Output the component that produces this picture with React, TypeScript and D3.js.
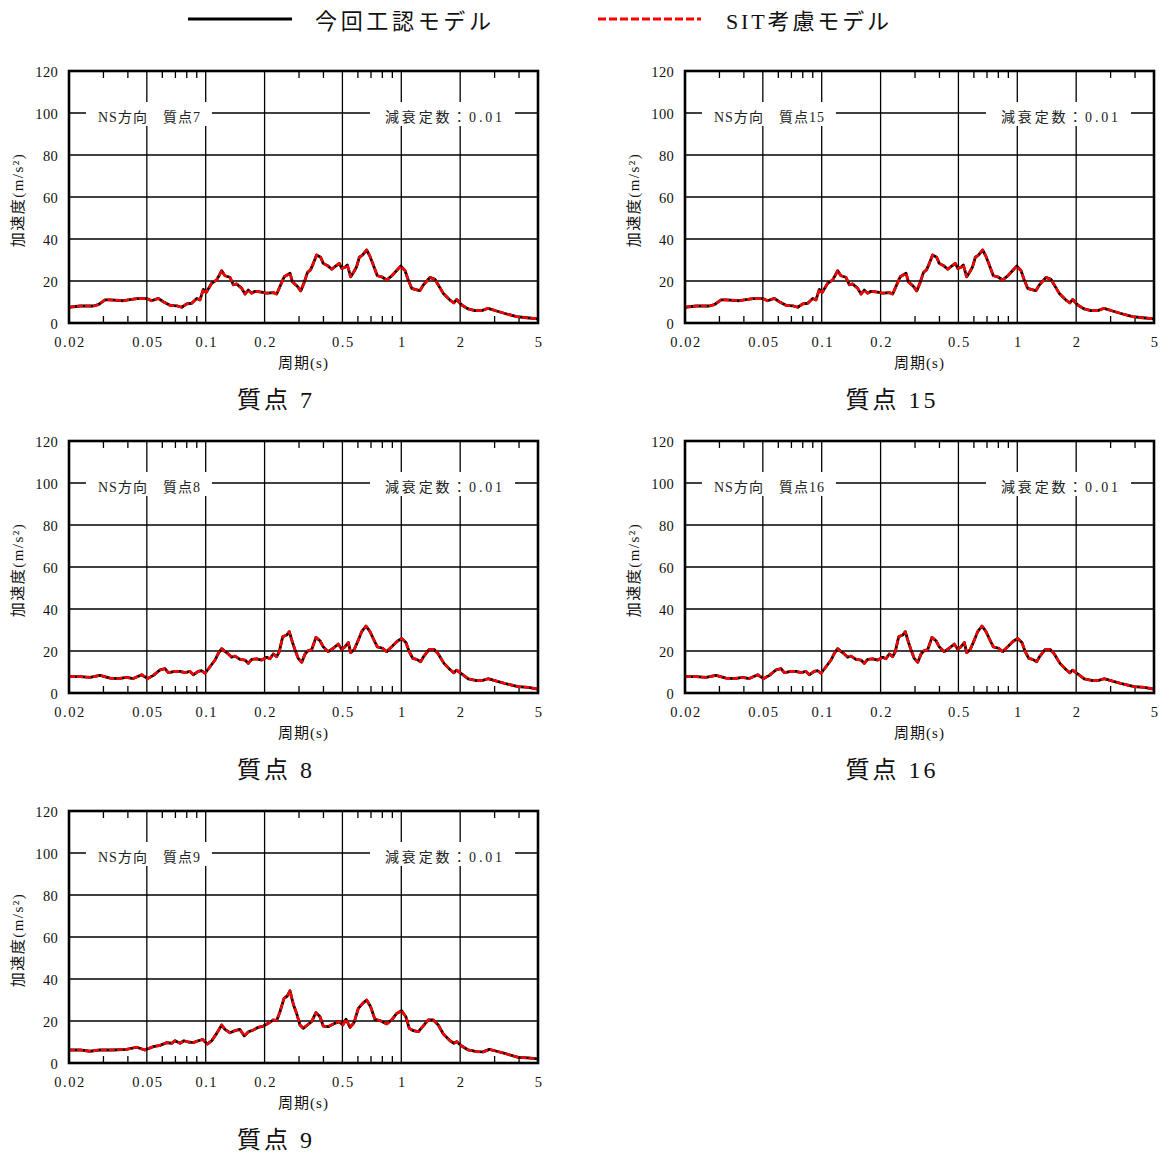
import React, { useEffect, useRef } from "react";
import * as d3 from "d3";

// ---------- data ----------
// 質点7 / 質点15 (identical curves)
const periods7 = [0.02, 0.0228, 0.0266, 0.0282, 0.0306, 0.0324, 0.0379, 0.0444, 0.05, 0.0529, 0.0572, 0.0607, 0.0657, 0.0711, 0.0754, 0.08, 0.0848, 0.09, 0.0935, 0.0972, 0.1005, 0.1073, 0.1138, 0.1207, 0.1254, 0.133, 0.1384, 0.144, 0.1528, 0.1588, 0.165, 0.1718, 0.1786, 0.1895, 0.205, 0.2216, 0.2306, 0.2378, 0.252, 0.2698, 0.278, 0.286, 0.294, 0.306, 0.318, 0.331, 0.344, 0.355, 0.369, 0.387, 0.399, 0.423, 0.441, 0.458, 0.482, 0.496, 0.515, 0.53, 0.551, 0.568, 0.591, 0.61, 0.635, 0.665, 0.692, 0.725, 0.754, 0.794, 0.842, 0.893, 0.947, 0.993, 1.044, 1.086, 1.13, 1.174, 1.246, 1.296, 1.402, 1.486, 1.546, 1.64, 1.774, 1.858, 1.919, 2.036, 2.2, 2.38, 2.58, 2.78, 3.07, 3.46, 3.89, 4.38, 5.0];
const kounin7 = [7.5, 8.1, 8.1, 8.7, 11.0, 11.0, 10.6, 11.6, 11.6, 10.6, 11.7, 10.1, 8.4, 8.2, 7.5, 9.1, 9.4, 11.7, 11.0, 16.0, 14.5, 18.9, 20.5, 24.9, 22.5, 21.8, 18.2, 18.6, 16.5, 13.8, 15.7, 14.2, 15.1, 14.8, 14.2, 14.5, 13.8, 16.7, 22.0, 23.7, 19.5, 18.5, 17.5, 15.3, 19.0, 24.0, 25.4, 28.4, 32.4, 31.3, 28.4, 27.1, 25.6, 26.8, 28.4, 26.0, 26.5, 27.6, 22.0, 23.9, 26.8, 31.3, 32.4, 34.8, 31.7, 26.8, 22.5, 22.0, 20.5, 22.4, 25.0, 27.1, 25.0, 20.5, 16.5, 16.0, 15.4, 18.1, 21.7, 20.8, 18.1, 14.1, 10.9, 9.6, 11.2, 8.6, 6.7, 5.9, 5.9, 7.0, 5.7, 4.3, 3.0, 2.5, 2.0];
const sit7 = kounin7; // SIT考慮モデル overlaps the black curve exactly at this scale

// 質点8 / 質点16 (identical curves)
const periods8 = [0.02, 0.0228, 0.0256, 0.0288, 0.0324, 0.0357, 0.0394, 0.0426, 0.0471, 0.0503, 0.054, 0.0584, 0.0619, 0.0644, 0.0697, 0.0739, 0.0784, 0.0831, 0.0864, 0.0916, 0.0954, 0.0992, 0.1052, 0.1116, 0.116, 0.1207, 0.1254, 0.1304, 0.1358, 0.1412, 0.1497, 0.1588, 0.165, 0.1718, 0.1823, 0.1932, 0.205, 0.2131, 0.2216, 0.2306, 0.2378, 0.2475, 0.2594, 0.2675, 0.278, 0.286, 0.297, 0.31, 0.322, 0.335, 0.348, 0.366, 0.384, 0.399, 0.423, 0.449, 0.476, 0.496, 0.515, 0.536, 0.551, 0.573, 0.603, 0.627, 0.66, 0.692, 0.725, 0.754, 0.803, 0.842, 0.893, 0.947, 1.004, 1.056, 1.098, 1.144, 1.198, 1.256, 1.306, 1.39, 1.469, 1.546, 1.653, 1.774, 1.858, 1.919, 2.036, 2.2, 2.43, 2.58, 2.78, 3.07, 3.46, 3.96, 4.46, 5.0];
const kounin8 = [7.8, 7.8, 7.4, 8.4, 7.1, 6.8, 7.4, 6.9, 8.7, 6.8, 8.4, 11.0, 11.6, 9.7, 10.3, 10.3, 9.7, 10.3, 8.7, 10.3, 10.6, 9.4, 12.5, 15.7, 18.9, 21.1, 19.8, 18.6, 17.0, 17.6, 16.0, 15.7, 14.1, 16.0, 16.3, 15.7, 17.0, 16.3, 18.6, 17.3, 19.7, 26.8, 27.6, 29.2, 24.0, 20.6, 16.5, 14.6, 18.6, 20.3, 20.5, 26.5, 24.9, 22.0, 19.7, 21.3, 23.3, 20.8, 22.0, 24.0, 19.2, 20.5, 25.2, 29.2, 31.9, 29.2, 25.2, 22.0, 21.3, 19.7, 22.0, 24.4, 26.0, 24.0, 19.7, 16.5, 16.0, 14.9, 17.6, 20.8, 20.8, 18.6, 14.1, 11.2, 9.6, 10.9, 9.1, 6.7, 5.9, 5.9, 6.8, 5.7, 4.3, 3.0, 2.7, 1.9];
const sit8 = kounin8;

// 質点9
const periods9 = [0.02, 0.0228, 0.0256, 0.0288, 0.0337, 0.0394, 0.0444, 0.0489, 0.054, 0.0584, 0.0632, 0.067, 0.0697, 0.0739, 0.0774, 0.0815, 0.0864, 0.0916, 0.0965, 0.1019, 0.1073, 0.1138, 0.1207, 0.1254, 0.133, 0.1412, 0.1497, 0.1575, 0.165, 0.1751, 0.1857, 0.197, 0.2089, 0.2216, 0.2306, 0.2398, 0.2514, 0.2614, 0.2698, 0.2804, 0.2918, 0.3034, 0.3154, 0.331, 0.348, 0.366, 0.384, 0.399, 0.423, 0.449, 0.482, 0.502, 0.522, 0.547, 0.573, 0.603, 0.635, 0.665, 0.697, 0.733, 0.778, 0.842, 0.893, 0.947, 1.004, 1.056, 1.098, 1.152, 1.221, 1.286, 1.374, 1.457, 1.546, 1.64, 1.774, 1.858, 1.919, 2.036, 2.2, 2.43, 2.62, 2.82, 3.07, 3.46, 3.96, 4.46, 5.0];
const kounin9 = [6.2, 6.2, 5.6, 6.2, 6.2, 6.5, 7.5, 6.2, 7.8, 8.4, 9.7, 9.4, 10.6, 9.4, 10.6, 10.0, 9.7, 10.6, 11.2, 9.0, 10.6, 14.1, 18.1, 16.0, 14.4, 15.4, 16.0, 12.9, 14.8, 15.7, 17.0, 17.6, 18.9, 20.5, 20.2, 24.4, 30.8, 31.9, 34.4, 28.0, 23.5, 18.1, 16.5, 18.1, 19.7, 24.0, 22.0, 17.6, 17.3, 18.6, 19.7, 18.1, 20.8, 17.0, 19.2, 26.0, 28.4, 30.0, 26.8, 20.8, 20.2, 18.6, 20.5, 23.6, 24.9, 22.0, 16.5, 15.4, 14.9, 17.3, 20.5, 20.5, 18.1, 13.8, 10.6, 9.4, 10.2, 8.1, 6.2, 5.4, 5.3, 6.5, 5.6, 4.3, 2.7, 2.4, 2.0];
const sit9 = kounin9;

// 質点15 / 質点16 share the curves of 質点7 / 質点8
const periods15 = periods7;
const kounin15 = kounin7;
const sit15 = sit7;
const periods16 = periods8;
const kounin16 = kounin8;
const sit16 = sit8;

const yTickValues = [0, 20, 40, 60, 80, 100, 120];
const yGridValues = [20, 40, 60, 80, 100];
const xTickValues = [0.02, 0.05, 0.1, 0.2, 0.5, 1, 2, 5];
const xTickLabels = ["0.02", "0.05", "0.1", "0.2", "0.5", "1", "2", "5"];
const xGridValues = [0.05, 0.1, 0.2, 0.5, 1, 2];
const xMinorValues = [0.03, 0.04, 0.06, 0.07, 0.08, 0.09, 0.3, 0.4, 0.6, 0.7, 0.8, 0.9, 3, 4];

const legendNames = ["今回工認モデル", "SIT考慮モデル"];
const panelNames = ["質点7", "質点15", "質点8", "質点16", "質点9"];
const panelTitles = ["質点 7", "質点 15", "質点 8", "質点 16", "質点 9"];
const dampingText = "減衰定数：0.01";
const directionText = "NS方向";
const yAxisTitle = "加速度(m/s²)";
const xAxisTitle = "周期(s)";

const panelData = [
  { periods: periods7, kounin: kounin7, sit: sit7 },
  { periods: periods15, kounin: kounin15, sit: sit15 },
  { periods: periods8, kounin: kounin8, sit: sit8 },
  { periods: periods16, kounin: kounin16, sit: sit16 },
  { periods: periods9, kounin: kounin9, sit: sit9 },
];

// ---------- layout ----------
const WIDTH = 1172;
const HEIGHT = 1155;
const COL_LEFT = [69, 685];
const ROW_TOP = [71, 441, 811];
const PW = 469;
const PH = 252;
const FONT = "'Liberation Serif', 'Noto Sans CJK JP', serif";

export default function App() {
  const ref = useRef<SVGSVGElement | null>(null);

  useEffect(() => {
    const svg = d3.select(ref.current);
    svg.selectAll("*").remove();
    svg.append("rect").attr("width", WIDTH).attr("height", HEIGHT).attr("fill", "#fff");

    // Legend
    const lg = svg.append("g");
    lg.append("line").attr("x1", 188).attr("x2", 292).attr("y1", 19).attr("y2", 19)
      .attr("stroke", "#000").attr("stroke-width", 3.2);
    lg.append("text").attr("x", 315).attr("y", 21).attr("dominant-baseline", "central")
      .attr("font-family", FONT).attr("font-size", 22).attr("textLength", 176)
      .attr("lengthAdjust", "spacing").attr("fill", "#111").text(legendNames[0]);
    lg.append("line").attr("x1", 598).attr("x2", 701).attr("y1", 19).attr("y2", 19)
      .attr("stroke", "#ff0000").attr("stroke-width", 3.2).attr("stroke-dasharray", "8,3");
    lg.append("text").attr("x", 726).attr("y", 21).attr("dominant-baseline", "central")
      .attr("font-family", FONT).attr("font-size", 22).attr("textLength", 163)
      .attr("lengthAdjust", "spacing").attr("fill", "#111").text(legendNames[1]);

    const x = d3.scaleLog().domain([0.02, 5]).range([0, PW]);
    const y = d3.scaleLinear().domain([0, 120]).range([PH, 0]);

    panelData.forEach((pd, i) => {
      const col = i % 2;
      const row = Math.floor(i / 2);
      const g = svg.append("g").attr("transform", `translate(${COL_LEFT[col]},${ROW_TOP[row]})`);

      // grid
      g.selectAll("line.gx").data(xGridValues).enter().append("line")
        .attr("x1", (d) => x(d)).attr("x2", (d) => x(d)).attr("y1", 0).attr("y2", PH)
        .attr("stroke", "#000").attr("stroke-width", 1.3);
      g.selectAll("line.gy").data(yGridValues).enter().append("line")
        .attr("x1", 0).attr("x2", PW).attr("y1", (d) => y(d)).attr("y2", (d) => y(d))
        .attr("stroke", "#000").attr("stroke-width", 1.3);
      // minor ticks (top & bottom, inward)
      xMinorValues.forEach((m) => {
        g.append("line").attr("x1", x(m)).attr("x2", x(m)).attr("y1", 0).attr("y2", 7)
          .attr("stroke", "#000").attr("stroke-width", 1.3);
        g.append("line").attr("x1", x(m)).attr("x2", x(m)).attr("y1", PH - 7).attr("y2", PH)
          .attr("stroke", "#000").attr("stroke-width", 1.3);
      });

      // annotation boxes
      const ay = y(100);
      const r1 = g.append("rect").attr("fill", "#fff");
      const t1 = g.append("text").attr("x", 29).attr("y", ay + 4)
        .attr("dominant-baseline", "central").attr("font-family", FONT)
        .attr("font-size", 14).attr("letter-spacing", 1).attr("fill", "#222")
        .text(`${directionText}\u3000${panelNames[i]}`);
      const b1 = (t1.node() as SVGTextElement).getBBox();
      r1.attr("x", 17).attr("y", ay - 11).attr("width", b1.x + b1.width - 17 + 11).attr("height", 24);

      const r2 = g.append("rect").attr("fill", "#fff");
      g.append("text").attr("x", 316).attr("y", ay + 4)
        .attr("dominant-baseline", "central").attr("font-family", FONT)
        .attr("font-size", 14).attr("textLength", 117).attr("lengthAdjust", "spacing")
        .attr("fill", "#222").text(dampingText);
      r2.attr("x", 301).attr("y", ay - 11).attr("width", 145).attr("height", 24);
      r2.lower();
      r1.lower();
      g.selectAll("line").lower();

      // curves
      const line = d3.line<number>()
        .x((_, k) => x(pd.periods[k]))
        .y((d) => y(d));
      g.append("path").attr("d", line(pd.kounin) as string).attr("fill", "none")
        .attr("stroke", "#000").attr("stroke-width", 2.8).attr("stroke-linejoin", "round");
      g.append("path").attr("d", line(pd.sit) as string).attr("fill", "none")
        .attr("stroke", "#ff0000").attr("stroke-width", 2.6).attr("stroke-dasharray", "6,2")
        .attr("stroke-linejoin", "round");

      // frame
      g.append("rect").attr("x", 0).attr("y", 0).attr("width", PW).attr("height", PH)
        .attr("fill", "none").attr("stroke", "#000").attr("stroke-width", 2.6);

      // y tick labels
      g.selectAll("text.yt").data(yTickValues).enter().append("text")
        .attr("x", -11).attr("y", (d) => y(d) + 1).attr("text-anchor", "end")
        .attr("dominant-baseline", "central").attr("font-family", FONT)
        .attr("font-size", 14.5).attr("letter-spacing", 0.3).attr("fill", "#111")
        .text((d) => String(d));
      // x tick labels
      g.selectAll("text.xt").data(xTickValues).enter().append("text")
        .attr("x", (d) => x(d) + 1).attr("y", PH + 19).attr("text-anchor", "middle")
        .attr("dominant-baseline", "central").attr("font-family", FONT)
        .attr("font-size", 14.5).attr("letter-spacing", 1.5).attr("fill", "#111")
        .text((_, k) => xTickLabels[k]);

      // axis titles
      g.append("text").attr("x", PW / 2).attr("y", PH + 40).attr("text-anchor", "middle")
        .attr("dominant-baseline", "central").attr("font-family", FONT).attr("font-size", 15)
        .attr("letter-spacing", 1).attr("fill", "#111")
        .text(xAxisTitle);
      g.append("text")
        .attr("transform", `translate(${-51},${PH / 2 + 3}) rotate(-90)`)
        .attr("text-anchor", "middle").attr("dominant-baseline", "central")
        .attr("font-family", FONT).attr("font-size", 15)
        .attr("letter-spacing", 1.5).attr("fill", "#111")
        .text(yAxisTitle);

      // panel title
      g.append("text").attr("x", 207).attr("y", PH + 77).attr("text-anchor", "middle")
        .attr("dominant-baseline", "central").attr("font-family", FONT).attr("font-size", 24)
        .attr("letter-spacing", 3).attr("fill", "#111").text(panelTitles[i]);
    });
  }, []);

  return (
    <svg
      ref={ref}
      width={WIDTH}
      height={HEIGHT}
      style={{ position: "absolute", left: 0, top: 0, display: "block" }}
    />
  );
}
